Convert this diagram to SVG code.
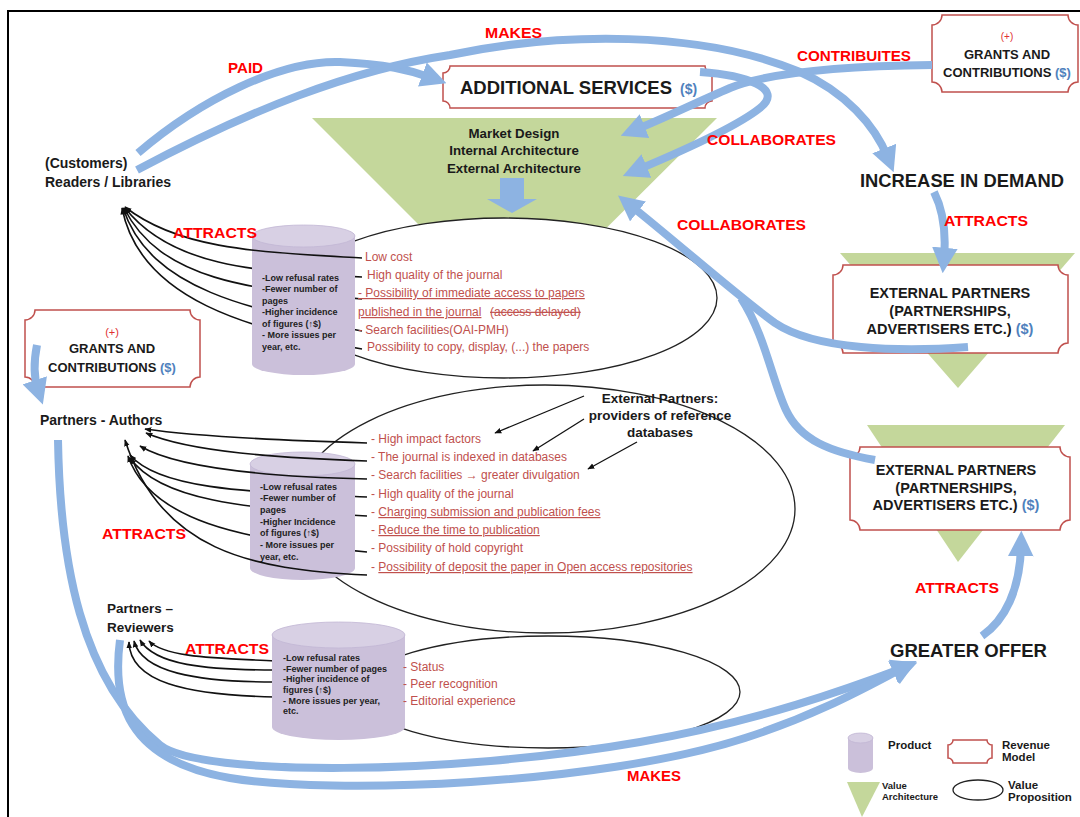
<svg xmlns="http://www.w3.org/2000/svg" width="1080" height="817" viewBox="0 0 1080 817">
<defs>
<marker id="bh" viewBox="0 0 10 10" refX="4" refY="5" markerWidth="3.2" markerHeight="3.2" orient="auto" markerUnits="strokeWidth"><path d="M0,0 L10,5 L0,10 Z" fill="#8db3e2"/></marker>
<marker id="kh" viewBox="0 0 10 10" refX="9" refY="5" markerWidth="7" markerHeight="7" orient="auto" markerUnits="userSpaceOnUse"><path d="M0,1 L10,5 L0,9 Z" fill="#111"/></marker>
</defs>
<style>
.blue{fill:none;stroke:#8db3e2;stroke-width:8;marker-end:url(#bh)}
.bl{fill:none;stroke:#8db3e2;stroke-width:8}
.k{fill:none;stroke:#111;stroke-width:1.6;marker-end:url(#kh)}
.kl{fill:none;stroke:#111;stroke-width:1.3;marker-end:url(#kh)}
.rev{fill:#fff;stroke:#c0504d;stroke-width:1.5}
.va{fill:#c4d79b}
.vp{fill:#fff;stroke:#222;stroke-width:1.3}
.cyl{fill:#cbc0da}
.cyltop{fill:#d8d0e4;stroke:#c2b6d4;stroke-width:0.8}
.lbl{font-family:"Liberation Sans",Arial,sans-serif;font-weight:bold;fill:#ff0000;font-size:15.5px}
.t{font-family:"Liberation Sans",Arial,sans-serif;font-weight:bold;fill:#1a1a1a}
.r{font-family:"Liberation Sans",Arial,sans-serif;font-size:12px;fill:#c0504d}
.c{font-family:"Liberation Sans",Arial,sans-serif;font-weight:bold;font-size:9px;fill:#222}
.m{text-anchor:middle}
.plus{fill:#e03030;font-weight:normal}
.dol{fill:#4f81bd}
.u{text-decoration:underline}
.s{text-decoration:line-through}
</style>
<rect x="0" y="0" width="1080" height="817" fill="#fff"/>
<path d="M8,817 V11 H1080" fill="none" stroke="#000" stroke-width="2"/>

<g id="value-architecture">
<polygon class="va" points="312,118 717,118 514,320"/>
<polygon points="500,178 524,178 524,199 537,199 512,213 487,199 500,199" fill="#8db3e2"/>
</g>
<g id="ep1-architecture"><polygon class="va" points="840,253 1075,253 958,388"/></g>
<g id="ep2-architecture"><polygon class="va" points="867,425 1065,425 958,562"/></g>

<g id="vp-readers"><ellipse class="vp" cx="504" cy="298" rx="213" ry="80"/></g>
<g id="vp-reviewers"><ellipse class="vp" cx="548" cy="692" rx="192" ry="56"/></g>
<g id="vp-authors"><ellipse class="vp" cx="545" cy="509" rx="250" ry="124"/></g>

<g id="thin-connectors-under">
<path class="k" d="M362,277 C250,272 170,265 125,208"/>
<path class="k" d="M362,299 C250,290 160,280 124,208"/>
<path class="k" d="M362,331 C250,310 150,290 123,208"/>
<path class="k" d="M362,349 C250,330 140,300 122,208"/>
<path class="k" d="M367,497 C250,492 160,490 130,455"/>
<path class="k" d="M367,516 C240,508 160,500 130,458"/>
<path class="k" d="M367,552 C240,540 150,520 128,456"/>
<path class="k" d="M275,661 C220,658 165,658 149,641"/>
<path class="k" d="M275,670 C205,670 155,665 140,640"/>
<path class="k" d="M275,682 C195,682 142,672 134,641"/>
<path class="k" d="M275,697 C185,695 130,682 129,642"/>
</g>

<g id="product-readers">
<path class="cyl" d="M252,236 V364 A51.5,11 0 0 0 355,364 V236 Z"/>
<ellipse class="cyltop" cx="303.5" cy="236" rx="51.5" ry="11"/>
<text class="c" x="262" y="281">-Low refusal rates</text>
<text class="c" x="262" y="292">-Fewer number  of</text>
<text class="c" x="262" y="304">pages</text>
<text class="c" x="262" y="315">-Higher incidence</text>
<text class="c" x="262" y="327">of figures (↑$)</text>
<text class="c" x="262" y="338">- More issues  per</text>
<text class="c" x="262" y="350">year, etc.</text>
</g>
<g id="product-authors">
<path class="cyl" d="M250,464 V568 A52.5,12 0 0 0 355,568 V464 Z"/>
<ellipse class="cyltop" cx="302.5" cy="464" rx="52.5" ry="12"/>
<text class="c" x="260" y="490">-Low refusal rates</text>
<text class="c" x="260" y="501">-Fewer number  of</text>
<text class="c" x="260" y="513">pages</text>
<text class="c" x="260" y="525">-Higher Incidence</text>
<text class="c" x="260" y="536">of figures (↑$)</text>
<text class="c" x="260" y="548">- More issues  per</text>
<text class="c" x="260" y="560">year, etc.</text>
</g>
<g id="product-reviewers">
<path class="cyl" d="M272,635 V727 A66.5,13 0 0 0 405,727 V635 Z"/>
<ellipse class="cyltop" cx="338.5" cy="635" rx="66.5" ry="13"/>
<text class="c" x="283" y="661">-Low refusal rates</text>
<text class="c" x="283" y="672">-Fewer number of pages</text>
<text class="c" x="283" y="682">-Higher incidence  of</text>
<text class="c" x="283" y="693">figures (↑$)</text>
<text class="c" x="283" y="704">- More issues  per year,</text>
<text class="c" x="283" y="714">etc.</text>
</g>

<g id="thin-connectors-over">
<path class="k" d="M362,258 C260,252 180,250 125,207"/>
<path class="k" d="M367,443 C300,441 200,437 145,429"/>
<path class="k" d="M367,461 C280,458 190,452 146,433"/>
<path class="k" d="M367,479 C280,477 180,470 140,446"/>
<path class="k" d="M367,575 C250,570 160,550 125,440"/>
<path class="kl" d="M584,396 L495,433"/>
<path class="kl" d="M584,419 L533,451"/>
<path class="kl" d="M637,442 L588,469"/>
</g>

<g id="vp-readers-text">
<text class="r" x="365" y="261">Low cost</text>
<text class="r" x="367" y="279">High quality of the journal</text>
<text class="r u" x="358" y="297">- Possibility of immediate access to papers</text>
<text class="r u" x="358" y="316">published in the journal</text>
<text class="r s" x="490" y="316">(access delayed)</text>
<text class="r" x="358" y="334">- Search facilities(OAI-PMH)</text>
<text class="r" x="367" y="351">Possibility to copy, display, (...) the papers</text>
</g>
<g id="vp-authors-text">
<text class="r" x="371" y="443">- High impact factors</text>
<text class="r" x="371" y="461">- The journal  is indexed in databases</text>
<text class="r" x="371" y="479">- Search facilities → greater divulgation</text>
<text class="r" x="371" y="498">- High quality of the journal</text>
<text class="r" x="371" y="516">- <tspan class="u">Charging submission and publication fees</tspan></text>
<text class="r" x="371" y="534">- <tspan class="u">Reduce the time to publication</tspan></text>
<text class="r" x="371" y="552">- Possibility of hold copyright</text>
<text class="r" x="371" y="571">- <tspan class="u">Possibility of deposit the paper in Open access repositories</tspan></text>
</g>
<g id="vp-reviewers-text">
<text class="r" x="403" y="671">- Status</text>
<text class="r" x="403" y="688">- Peer recognition</text>
<text class="r" x="403" y="705">- Editorial experience</text>
</g>

<g id="additional-services">
<path class="rev" d="M450,66 H705 A7,7 0 0 0 712,73 V101 A7,7 0 0 0 705,108 H450 A7,7 0 0 0 443,101 V73 A7,7 0 0 0 450,66 Z"/>
<text class="t" x="460" y="94" font-size="19" textLength="212" lengthAdjust="spacingAndGlyphs">ADDITIONAL SERVICES</text>
<text class="t dol" x="680" y="94" font-size="14">($)</text>
</g>
<g id="grants-top">
<path class="rev" d="M942,15 H1068 A10,10 0 0 0 1078,25 V82 A10,10 0 0 0 1068,92 H942 A10,10 0 0 0 932,82 V25 A10,10 0 0 0 942,15 Z"/>
<text class="t m plus" x="1007" y="40" font-size="10">(+)</text>
<text class="t m" x="1007" y="59" font-size="13">GRANTS AND</text>
<text class="t m" x="1007" y="77" font-size="13">CONTRIBUTIONS <tspan class="dol">($)</tspan></text>
</g>
<g id="grants-left">
<path class="rev" d="M35,310 H190 A10,10 0 0 0 200,320 V377 A10,10 0 0 0 190,387 H35 A10,10 0 0 0 25,377 V320 A10,10 0 0 0 35,310 Z"/>
<text class="t m plus" x="112" y="336" font-size="11">(+)</text>
<text class="t m" x="112" y="353" font-size="13">GRANTS AND</text>
<text class="t m" x="112" y="372" font-size="13">CONTRIBUTIONS <tspan class="dol">($)</tspan></text>
</g>
<g id="external-partners-1">
<path class="rev" d="M843,265 H1058 A10,10 0 0 0 1068,275 V343 A10,10 0 0 0 1058,353 H843 A10,10 0 0 0 833,343 V275 A10,10 0 0 0 843,265 Z"/>
<text class="t m" x="950" y="298" font-size="14.5">EXTERNAL PARTNERS</text>
<text class="t m" x="950" y="316" font-size="14.5">(PARTNERSHIPS,</text>
<text class="t m" x="950" y="334" font-size="14.5">ADVERTISERS ETC.) <tspan class="dol">($)</tspan></text>
</g>
<g id="external-partners-2">
<path class="rev" d="M860,447 H1060 A10,10 0 0 0 1070,457 V520 A10,10 0 0 0 1060,530 H860 A10,10 0 0 0 850,520 V457 A10,10 0 0 0 860,447 Z"/>
<text class="t m" x="956" y="475" font-size="14.5">EXTERNAL PARTNERS</text>
<text class="t m" x="956" y="493" font-size="14.5">(PARTNERSHIPS,</text>
<text class="t m" x="956" y="510" font-size="14.5">ADVERTISERS ETC.) <tspan class="dol">($)</tspan></text>
</g>

<g id="market-design">
<text class="t m" x="514" y="138" font-size="13.3">Market Design</text>
<text class="t m" x="514" y="155" font-size="13.3">Internal Architecture</text>
<text class="t m" x="514" y="173" font-size="13.3">External Architecture</text>
</g>
<g id="customers">
<text class="t" x="45" y="168" font-size="14">(Customers)</text>
<text class="t" x="45" y="187" font-size="14">Readers / Libraries</text>
</g>
<g id="authors"><text class="t" x="40" y="425" font-size="14">Partners - Authors</text></g>
<g id="reviewers">
<text class="t" x="107" y="613" font-size="13.5">Partners –</text>
<text class="t" x="107" y="632" font-size="13.5">Reviewers</text>
</g>
<g id="external-db">
<text class="t m" x="660" y="403" font-size="13.5">External Partners:</text>
<text class="t m" x="660" y="420" font-size="13.5">providers of reference</text>
<text class="t m" x="660" y="437" font-size="13.5">databases</text>
</g>
<g id="increase-demand"><text class="t" x="860" y="187" font-size="18.5" textLength="204" lengthAdjust="spacingAndGlyphs">INCREASE IN DEMAND</text></g>
<g id="greater-offer"><text class="t" x="890" y="657" font-size="18.5" textLength="157" lengthAdjust="spacingAndGlyphs">GREATER OFFER</text></g>

<g id="connectors">
<path class="blue" d="M138,153 C200,100 280,60 340,62 C385,64 410,70 432,78"/>
<path class="blue" d="M137,170 C250,110 350,70 450,55 C560,32 700,30 800,72 C845,92 875,125 888,158"/>
<path class="blue" d="M932,65 C840,66 770,72 730,88 C695,103 665,118 635,130"/>
<path class="blue" d="M700,72 C745,75 785,88 760,108 C735,128 680,152 637,170"/>
<path class="blue" d="M968,347 C900,352 815,350 775,323 C740,298 680,245 630,205"/>
<path class="bl" d="M875,460 C830,452 800,440 786,410 C772,380 765,335 741,298"/>
<path class="blue" d="M934,192 C944,212 946,235 944,258"/>
<path class="blue" d="M37,345 C33,365 34,378 38,390"/>
<path class="blue" d="M58,440 C60,560 80,680 160,745 C200,777 450,775 640,742 C760,721 850,688 903,668"/>
<path class="blue" d="M120,640 C112,700 125,760 230,778 C330,795 600,785 745,738 C820,714 870,685 903,668"/>
<path class="blue" d="M982,636 C1005,620 1020,590 1021,546"/>
</g>

<g id="labels">
<text class="lbl" x="228" y="73" textLength="35" lengthAdjust="spacingAndGlyphs">PAID</text>
<text class="lbl" x="485" y="38" textLength="57" lengthAdjust="spacingAndGlyphs">MAKES</text>
<text class="lbl" x="797" y="61" textLength="114" lengthAdjust="spacingAndGlyphs">CONTRIBUITES</text>
<text class="lbl" x="707" y="145" textLength="129" lengthAdjust="spacingAndGlyphs">COLLABORATES</text>
<text class="lbl" x="677" y="230" textLength="129" lengthAdjust="spacingAndGlyphs">COLLABORATES</text>
<text class="lbl" x="944" y="226" textLength="84" lengthAdjust="spacingAndGlyphs">ATTRACTS</text>
<text class="lbl" x="173" y="238" textLength="84" lengthAdjust="spacingAndGlyphs">ATTRACTS</text>
<text class="lbl" x="102" y="539" textLength="84" lengthAdjust="spacingAndGlyphs">ATTRACTS</text>
<text class="lbl" x="185" y="654" textLength="84" lengthAdjust="spacingAndGlyphs">ATTRACTS</text>
<text class="lbl" x="915" y="593" textLength="84" lengthAdjust="spacingAndGlyphs">ATTRACTS</text>
<text class="lbl" x="627" y="781" textLength="54" lengthAdjust="spacingAndGlyphs">MAKES</text>
</g>

<g id="legend">
<path class="cyl" d="M848,738 V768 A12.5,5 0 0 0 873,768 V738 Z"/>
<ellipse class="cyltop" cx="860.5" cy="738" rx="12.5" ry="5"/>
<text class="t" x="888" y="749" font-size="11.5">Product</text>
<path class="rev" d="M953,740 H987 A5,5 0 0 0 992,745 V758 A5,5 0 0 0 987,763 H953 A5,5 0 0 0 948,758 V745 A5,5 0 0 0 953,740 Z"/>
<text class="t" x="1002" y="749" font-size="11.5">Revenue</text>
<text class="t" x="1002" y="761" font-size="11.5">Model</text>
<polygon class="va" points="847,782 880,782 862,817"/>
<text class="t" x="882" y="789" font-size="9.5">Value</text>
<text class="t" x="882" y="800" font-size="9.5">Architecture</text>
<ellipse class="vp" cx="978" cy="790" rx="25" ry="10"/>
<text class="t" x="1008" y="789" font-size="11.5">Value</text>
<text class="t" x="1008" y="801" font-size="11.5">Proposition</text>
</g>
</svg>
